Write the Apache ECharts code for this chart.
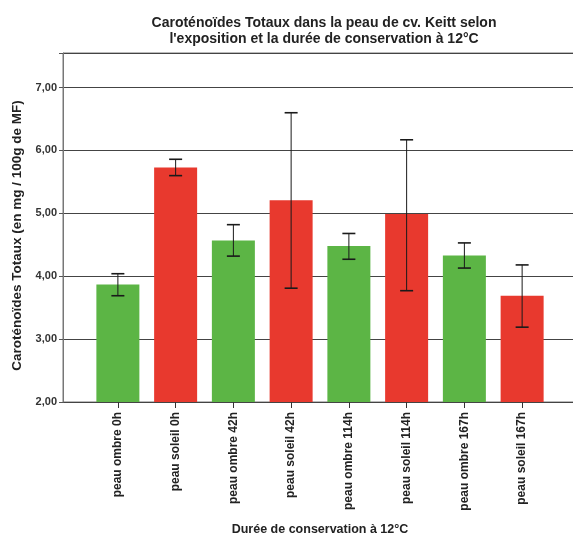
<!DOCTYPE html>
<html>
<head>
<meta charset="utf-8">
<script src="https://cdn.jsdelivr.net/npm/echarts@6/dist/echarts.min.js"></script>
<style>
html,body{margin:0;padding:0;background:#fff;}
#chart{width:573px;height:537px;}
</style>
</head>
<body>
<div id="chart"></div>
<script>
// ---- data ----
const categories = ["peau ombre 0h","peau soleil 0h","peau ombre 42h","peau soleil 42h","peau ombre 114h","peau soleil 114h","peau ombre 167h","peau soleil 167h"];
const means = [3.87, 5.73, 4.57, 5.21, 4.48, 4.99, 4.33, 3.69];
const errLow = [3.69, 5.60, 4.32, 3.81, 4.27, 3.77, 4.13, 3.19];
const errHigh = [4.04, 5.86, 4.82, 6.60, 4.68, 6.17, 4.53, 4.18];
const yTicks = [2, 3, 4, 5, 6, 7];

const titleText = "Caroténoïdes Totaux dans la peau de cv. Keitt selon\nl'exposition et la durée de conservation à 12°C";
const yName = "Caroténoïdes Totaux (en mg / 100g de MF)";
const xName = "Durée de conservation à 12°C";

const GREEN = '#5cb545', RED = '#e8392e';
const FONT = 'Liberation Sans';

const chart = echarts.init(document.getElementById('chart'), null, {renderer:'canvas'});
const errData = categories.map((c, i) => [i, errLow[i], errHigh[i]]);

chart.setOption({
  animation: false,
  backgroundColor: '#fff',
  title: {
    text: titleText, left: 319, top: 10, textAlign: 'center',
    textStyle: {fontFamily: FONT, fontWeight: 'bold', fontSize: 14, color: '#222', lineHeight: 16}
  },
  grid: [
    {left: 63, right: -6, top: 53, bottom: 135, show: true, borderColor: '#777', borderWidth: 1,
     backgroundColor: 'transparent', outerBoundsMode: 'none', containLabel: false},
    {left: 89, right: 22, top: 53, bottom: 135, outerBoundsMode: 'none', containLabel: false}
  ],
  xAxis: [
    {gridIndex: 0, type: 'value', show: false, min: 0, max: 1},
    {gridIndex: 1, type: 'category', data: categories,
     axisLine: {show: false},
     axisTick: {show: true, alignWithLabel: true, length: 6, lineStyle: {color: '#333'}},
     axisLabel: {rotate: 90, fontFamily: FONT, fontWeight: 'bold', fontSize: 12, color: '#222', margin: 10},
     name: xName, nameLocation: 'middle', nameGap: 121,
     nameTextStyle: {fontFamily: FONT, fontWeight: 'bold', fontSize: 12.5, color: '#222'}
    }
  ],
  yAxis: [
    {gridIndex: 0, type: 'value', min: yTicks[0], max: 7.55, interval: 1,
     axisLine: {show: true, lineStyle: {color: '#777'}},
     axisTick: {show: true, length: 4, lineStyle: {color: '#555'}},
     axisLabel: {fontFamily: FONT, fontWeight: 'bold', fontSize: 11, color: '#333', margin: 6,
       formatter: v => yTicks.includes(v) ? v.toFixed(2).replace('.', ',') : ''},
     splitLine: {show: true, lineStyle: {color: '#444', width: 1}},
     name: yName, nameLocation: 'middle', nameGap: 30,
     nameTextStyle: {fontFamily: FONT, fontWeight: 'bold', fontSize: 13.5, color: '#222', padding: [0, 16, 0, 0]}
    },
    {gridIndex: 1, type: 'value', min: yTicks[0], max: 7.55, show: false}
  ],
  series: [
    {type: 'bar', xAxisIndex: 1, yAxisIndex: 1, data: means, barWidth: 43,
     itemStyle: {color: p => p.dataIndex % 2 === 0 ? GREEN : RED}, z: 3},
    {type: 'custom', xAxisIndex: 1, yAxisIndex: 1, data: errData, z: 5,
     renderItem: function (params, api) {
       const x = api.value(0);
       const lo = api.coord([x, api.value(1)]);
       const hi = api.coord([x, api.value(2)]);
       const hw = 6.5;
       const st = {stroke: '#1a1a1a', lineWidth: 1};
       const cst = {stroke: '#1a1a1a', lineWidth: 1.6};
       return {type: 'group', children: [
         {type: 'line', shape: {x1: hi[0], y1: hi[1], x2: lo[0], y2: lo[1]}, style: st},
         {type: 'line', shape: {x1: hi[0]-hw, y1: hi[1], x2: hi[0]+hw, y2: hi[1]}, style: cst},
         {type: 'line', shape: {x1: lo[0]-hw, y1: lo[1], x2: lo[0]+hw, y2: lo[1]}, style: cst}
       ]};
     }
    }
  ]
});
</script>
</body>
</html>
